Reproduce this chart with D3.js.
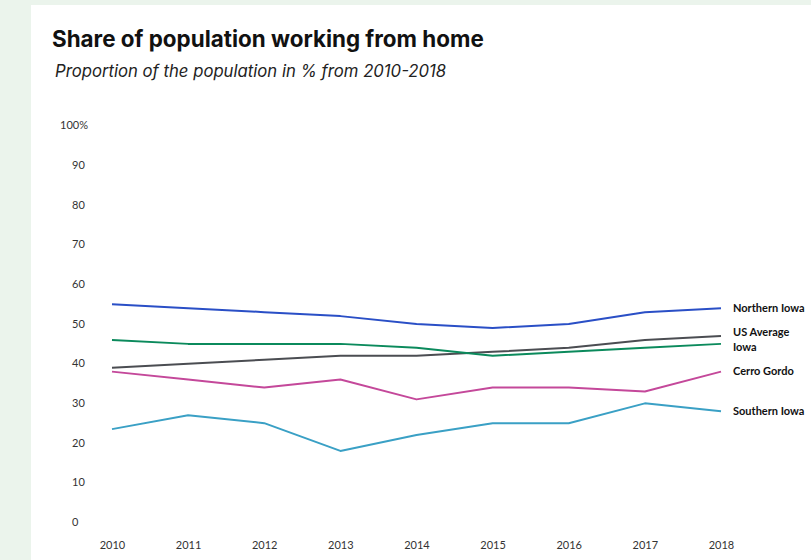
<!DOCTYPE html>
<html>
<head>
<meta charset="utf-8">
<script src="https://cdn.jsdelivr.net/npm/d3@7"></script>
<style>
  html, body { margin: 0; padding: 0; background: #ebf4ec; }
  svg { display: block; }
</style>
</head>
<body>
<svg id="chart" width="811" height="560"></svg>
<script>
// Years on the x axis
const years = [2010, 2011, 2012, 2013, 2014, 2015, 2016, 2017, 2018];

// Share of population working from home (%), one array per region
const northernIowa = [55, 54, 53, 52, 50, 49, 50, 53, 54];
const usAverage    = [39, 40, 41, 42, 42, 43, 44, 46, 47];
const iowa         = [46, 45, 45, 45, 44, 42, 43, 44, 45];
const cerroGordo   = [38, 36, 34, 36, 31, 34, 34, 33, 38];
const southernIowa = [23.5, 27, 25, 18, 22, 25, 25, 30, 28];

const seriesNames  = ["Northern Iowa", "US Average", "Iowa", "Cerro Gordo", "Southern Iowa"];
const seriesColors = ["#2a4fc6", "#4b4d52", "#0b8a5c", "#c4489a", "#3aa0c5"];
const seriesValues = [northernIowa, usAverage, iowa, cerroGordo, southernIowa];

const yTicks = [0, 10, 20, 30, 40, 50, 60, 70, 80, 90, 100];

const series = seriesNames.map((name, i) => ({
  name, color: seriesColors[i],
  points: years.map((y, j) => ({ year: y, value: seriesValues[i][j] }))
}));

const svg = d3.select("#chart");

// white card
svg.append("rect").attr("x", 31).attr("y", 5).attr("width", 780).attr("height", 555).attr("fill", "#ffffff");

// titles
svg.append("text")
  .attr("x", 52).attr("y", 47)
  .attr("font-family", "Inter, 'Noto Sans', sans-serif")
  .attr("font-weight", 700).attr("font-size", 22.4)
  .attr("fill", "#111")
  .text("Share of population working from home");

svg.append("text")
  .attr("x", 55).attr("y", 77)
  .attr("font-family", "Inter, 'Noto Sans', sans-serif")
  .attr("font-style", "italic").attr("font-weight", 400).attr("font-size", 16.7)
  .attr("fill", "#222")
  .text("Proportion of the population in % from 2010-2018");

const x = d3.scaleLinear().domain([2010, 2018]).range([112, 721]);
const y = d3.scaleLinear().domain([0, 100]).range([522.3, 125.8]);

// y axis labels
const yAxis = svg.append("g")
  .attr("transform", "translate(72,0)")
  .call(d3.axisLeft(y).tickValues(yTicks).tickSize(0).tickPadding(0)
    .tickFormat(d => d === 100 ? "100%" : d));
yAxis.select(".domain").remove();
yAxis.selectAll("text")
  .attr("text-anchor", d => d === 100 ? "end" : "start")
  .attr("x", d => d === 100 ? 16 : 0)
  .attr("dy", "0.28em")
  .attr("font-family", "Lato, sans-serif").attr("font-size", 11).attr("fill", "#333");

// x axis labels
const xAxis = svg.append("g")
  .attr("transform", "translate(0,541)")
  .call(d3.axisBottom(x).tickValues(years).tickSize(0).tickPadding(0).tickFormat(d3.format("d")));
xAxis.select(".domain").remove();
xAxis.selectAll("text")
  .attr("font-family", "Lato, sans-serif").attr("font-size", 11).attr("fill", "#333");

// lines
const line = d3.line().x(d => x(d.year)).y(d => y(d.value));
svg.append("g").selectAll("path").data(series).join("path")
  .attr("d", d => line(d.points))
  .attr("fill", "none")
  .attr("stroke", d => d.color)
  .attr("stroke-width", 2)
  .attr("stroke-linejoin", "round");

// end labels, spread apart so they don't overlap
const labels = series.map(s => ({ name: s.name, y: y(s.points[s.points.length - 1].value) }))
  .sort((a, b) => a.y - b.y);
const minGap = 15;
for (let iter = 0; iter < 50; iter++) {
  for (let i = 1; i < labels.length; i++) {
    const a = labels[i - 1], b = labels[i];
    const gap = b.y - a.y;
    if (gap < minGap) {
      const shift = (minGap - gap) / 2;
      a.y -= shift; b.y += shift;
    }
  }
}
svg.append("g").selectAll("text").data(labels).join("text")
  .attr("x", 733).attr("y", d => d.y)
  .attr("dy", "0.35em")
  .attr("font-family", "Lato, sans-serif").attr("font-weight", 700).attr("font-size", 11)
  .attr("fill", "#111")
  .text(d => d.name);
</script>
</body>
</html>
